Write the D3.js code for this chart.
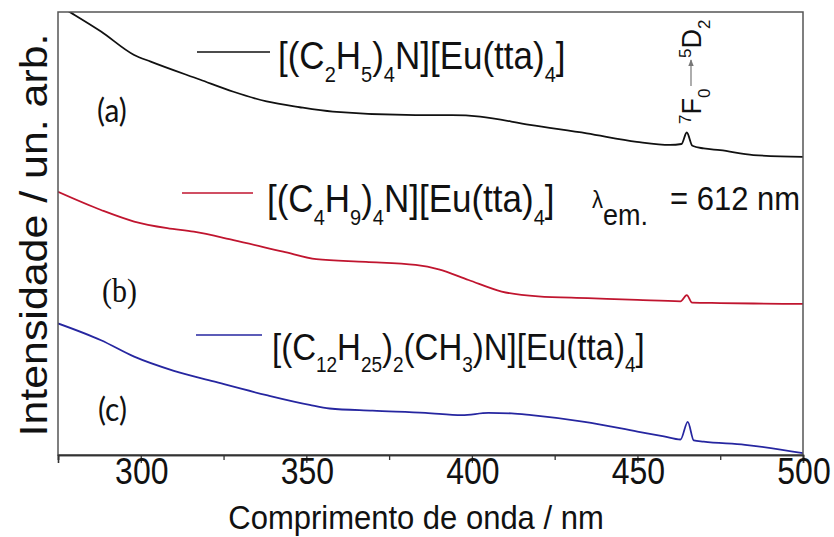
<html lang="pt">
<head>
<meta charset="UTF-8">
<title>Excitacao Eu(tta)4</title>
<script src="https://cdn.jsdelivr.net/npm/d3@7"></script>
<style>
  body { margin: 0; background: #fff; }
  text { font-family: "Liberation Sans", Arial, sans-serif; fill: #111; }
  text.tag { font-family: Lato, sans-serif; }
  text.tagserif { font-family: "Liberation Serif", serif; }
</style>
</head>
<body>
<script>
// spectra (intensity in arbitrary units, 0..100 = plot height)
var wlA = [275, 279, 288, 298, 303, 318, 328, 338, 348, 358, 383, 394, 402.5, 417.5, 434.7, 449.8, 459.8, 463.3, 464.9, 466.6, 470, 475, 485, 500];
var intA = [101.6, 99.8, 95.6, 90.3, 88.8, 84.7, 82, 79.8, 78.5, 77.5, 76.7, 76.7, 76.4, 74.5, 72.6, 70.7, 70, 70.2, 72.8, 69.8, 69.2, 68.8, 67.7, 67.3];

var wlB = [275, 288, 298, 308, 316, 328, 343, 353, 368, 383, 390, 399, 409, 420, 435, 450, 463, 464.9, 466.5, 475, 485, 500];
var intB = [59.4, 55.3, 52.7, 51.2, 50.4, 48.5, 45.9, 44.2, 43.6, 42.9, 41.9, 39.5, 36.9, 35.8, 35.4, 35.0, 34.7, 36.1, 34.4, 34.3, 34.2, 34.1];

var wlC = [275, 288, 298, 310, 322, 338, 351, 357, 370, 386, 397, 405, 412, 418, 434, 450, 458, 463, 465.2, 467, 470, 482.5, 500];
var intC = [29.7, 25.9, 22.2, 19.0, 16.6, 13.5, 11.3, 10.5, 10.0, 9.5, 9.0, 9.5, 9.4, 9.0, 7.5, 5.3, 4.2, 3.5, 7.5, 3.3, 3.0, 2.3, 0.4];

var majorTicks = [300, 350, 400, 450, 500];
var minorTicks = [275, 325, 375, 425, 475];

var series = [
  {wl: wlA, val: intA, color: "#111111"},
  {wl: wlB, val: intB, color: "#c0152f"},
  {wl: wlC, val: intC, color: "#2626a0"}
];

var width = 834, height = 537;
var pL = 58, pR = 803, pT = 12, pB = 455;
var S = 1.12; // the figure's text is a little tall

var x = d3.scaleLinear().domain([275, 500]).range([pL, pR]);
var y = d3.scaleLinear().domain([0, 100]).range([pB, pT]);

var svg = d3.select("body").append("svg")
  .attr("width", width)
  .attr("height", height);

var defs = svg.append("defs");
defs.append("clipPath").attr("id", "clip")
  .append("rect").attr("x", pL).attr("y", pT)
  .attr("width", pR - pL).attr("height", pB - pT);

var line = d3.line()
  .x(function(d) { return x(d[0]); })
  .y(function(d) { return y(d[1]); })
  .curve(d3.curveMonotoneX);

svg.append("g").attr("clip-path", "url(#clip)")
  .selectAll("path")
  .data(series)
  .enter().append("path")
  .attr("d", function(s) { return line(d3.zip(s.wl, s.val)); })
  .attr("fill", "none")
  .attr("stroke", function(s) { return s.color; })
  .attr("stroke-width", 1.8);

// frame
svg.append("rect")
  .attr("x", pL).attr("y", pT)
  .attr("width", pR - pL).attr("height", pB - pT)
  .attr("fill", "none").attr("stroke", "#555").attr("stroke-width", 1.5);

// bottom axis
var axis = svg.append("g").attr("transform", "translate(0," + pB + ")");
axis.call(d3.axisBottom(x).tickValues(majorTicks).tickSize(8).tickFormat(""));
axis.append("g").call(d3.axisBottom(x).tickValues(minorTicks).tickSize(5).tickFormat(""));
axis.selectAll(".domain").attr("stroke", "#333").attr("stroke-width", 1.6);
axis.selectAll(".tick line").attr("stroke", "#333").attr("stroke-width", 1.3);

function txt(g, px, py, str, size, opts) {
  opts = opts || {};
  return g.append("text")
    .attr("class", opts.cls || null)
    .attr("transform", "translate(" + px + "," + py + ") scale(1," + (opts.sy || S) + ")")
    .attr("text-anchor", opts.anchor || "start")
    .style("font-size", size + "px")
    .text(str);
}

majorTicks.forEach(function(t) {
  txt(svg, x(t) + 1, 484, t, 32, {anchor: "middle", sy: 1.15});
});
txt(svg, 416, 529, "Comprimento de onda / nm", 31, {anchor: "middle", sy: 1.05});

svg.append("text")
  .attr("transform", "translate(47,235) rotate(-90) scale(1.1,1)")
  .attr("text-anchor", "middle")
  .style("font-size", "39px")
  .text("Intensidade / un. arb.");

// rich text: parts are [string, "sub"|"sup"|null]
function rich(g, px, py, parts, size, subSize) {
  var t = g.append("text")
    .attr("transform", "translate(" + px + "," + py + ") scale(1," + S + ")")
    .style("font-size", size + "px");
  var shift = 0;
  parts.forEach(function(p) {
    var want = p[1] === "sub" ? size * 0.32 : (p[1] === "sup" ? -size * 0.38 : 0);
    t.append("tspan")
      .attr("dy", want - shift)
      .style("font-size", (p[1] ? subSize : size) + "px")
      .text(p[0]);
    shift = want;
  });
  return t;
}

var legend = [
  {x1: 197, x2: 270, ly: 52, tx: 278, ty: 69, color: "#111111", size: 35, sub: 20,
   parts: [["[(C"], ["2", "sub"], ["H"], ["5", "sub"], [")"], ["4", "sub"], ["N][Eu(tta)"], ["4", "sub"], ["]"]]},
  {x1: 182, x2: 253, ly: 193, tx: 267, ty: 212, color: "#c0152f", size: 35, sub: 20,
   parts: [["[(C"], ["4", "sub"], ["H"], ["9", "sub"], [")"], ["4", "sub"], ["N][Eu(tta)"], ["4", "sub"], ["]"]]},
  {x1: 196, x2: 262, ly: 335, tx: 272, ty: 360, color: "#2626a0", size: 33, sub: 19,
   parts: [["[(C"], ["12", "sub"], ["H"], ["25", "sub"], [")"], ["2", "sub"], ["(CH"], ["3", "sub"], [")N][Eu(tta)"], ["4", "sub"], ["]"]]}
];

legend.forEach(function(l) {
  svg.append("line")
    .attr("x1", l.x1).attr("x2", l.x2).attr("y1", l.ly).attr("y2", l.ly)
    .attr("stroke", l.color).attr("stroke-width", 1.6);
  rich(svg, l.tx, l.ty, l.parts, l.size, l.sub);
});

// excitation wavelength note
txt(svg, 592, 208, "\u03bb", 22);
txt(svg, 603, 225, "em.", 27);
txt(svg, 670, 210, "= 612 nm", 31, {sy: 1.1});

// (a) (b) (c)
txt(svg, 97, 122, "(a)", 30, {cls: "tag"});
txt(svg, 102, 302, "(b)", 30, {cls: "tagserif"});
txt(svg, 98, 421, "(c)", 30, {cls: "tag"});

// 7F0 -> 5D2 transition label, vertical
var tr = svg.append("g").attr("transform", "translate(701,124) rotate(-90)");
var t1 = tr.append("text").style("font-size", "27px");
t1.append("tspan").attr("dy", -10).style("font-size", "17px").text("7");
t1.append("tspan").attr("dy", 10).text("F");
t1.append("tspan").attr("dy", 9).style("font-size", "17px").text("0");
var t2 = tr.append("text").attr("x", 66).style("font-size", "27px");
t2.append("tspan").attr("dy", -10).style("font-size", "17px").text("5");
t2.append("tspan").attr("dy", 10).text("D");
t2.append("tspan").attr("dy", 9).style("font-size", "17px").text("2");

defs.append("marker")
  .attr("id", "head").attr("viewBox", "0 0 10 10")
  .attr("refX", 9).attr("refY", 5)
  .attr("markerWidth", 6).attr("markerHeight", 6)
  .attr("orient", "auto")
  .append("path").attr("d", "M0,1 L10,5 L0,9 Z").attr("fill", "#777");
tr.append("line")
  .attr("x1", 38).attr("x2", 64).attr("y1", -10).attr("y2", -10)
  .attr("stroke", "#777").attr("stroke-width", 1.2)
  .attr("marker-end", "url(#head)");
</script>
</body>
</html>
